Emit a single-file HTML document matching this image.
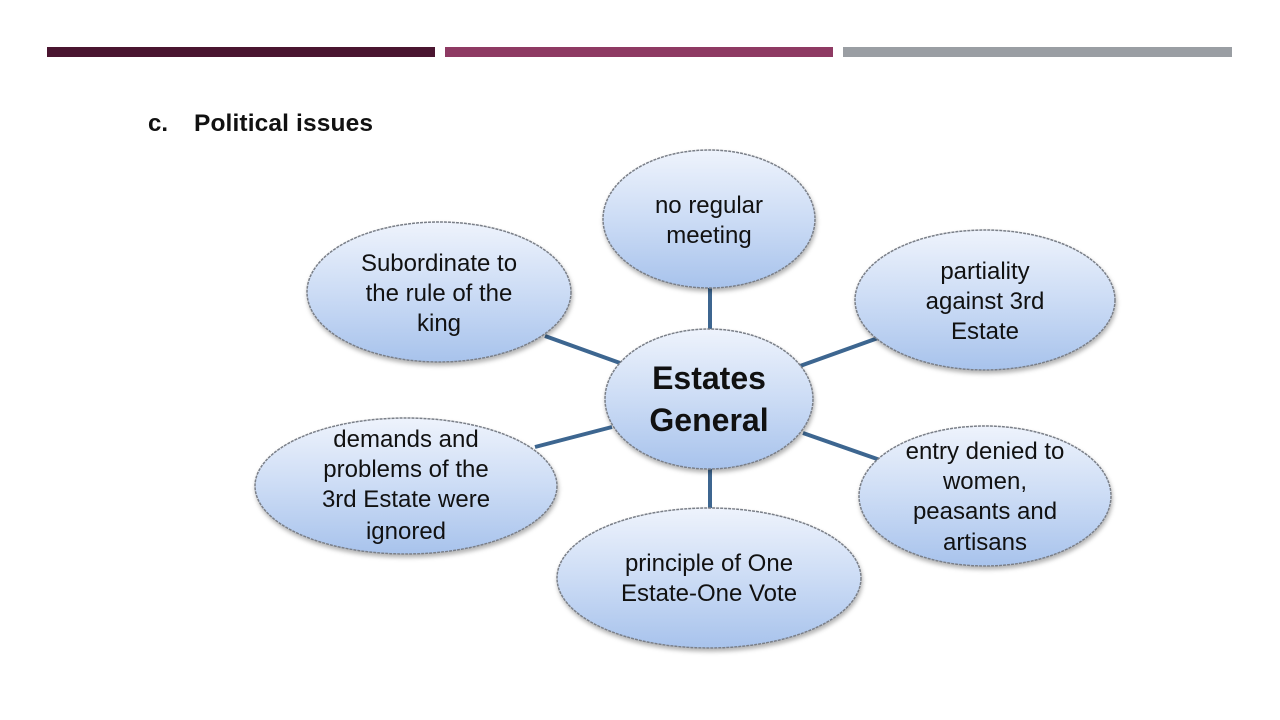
<!DOCTYPE html>
<html><head><meta charset="utf-8"><style>
html,body{margin:0;padding:0;background:#fff;}
svg{display:block;}
text{font-family:"Liberation Sans",sans-serif;fill:#111;}
</style></head><body>
<svg width="1280" height="720" viewBox="0 0 1280 720">
<defs>
<linearGradient id="g" x1="0" y1="0" x2="0" y2="1">
<stop offset="0" stop-color="#eef3fc"/>
<stop offset="0.5" stop-color="#ccdcf5"/>
<stop offset="1" stop-color="#a8c3ec"/>
</linearGradient>
<filter id="s" x="-10%" y="-10%" width="120%" height="130%"><feDropShadow dx="1" dy="3" stdDeviation="2" flood-color="#000" flood-opacity="0.3"/></filter>
</defs>
<rect x="47" y="47" width="388" height="10" fill="#4a1530"/>
<rect x="445" y="47" width="388" height="10" fill="#8e3a63"/>
<rect x="843" y="47" width="389" height="10" fill="#9a9ea3"/>
<text x="148" y="131" font-size="24" font-weight="bold">c.</text>
<text x="194" y="131" font-size="24.5" font-weight="bold" textLength="179">Political issues</text>
<g stroke="#3d6690" stroke-width="4">
<line x1="710" y1="288" x2="710" y2="330"/>
<line x1="710" y1="468" x2="710" y2="508"/>
<line x1="545" y1="336" x2="620" y2="363"/>
<line x1="535" y1="447" x2="612" y2="427"/>
<line x1="800" y1="366" x2="878" y2="338"/>
<line x1="803" y1="433" x2="880" y2="460"/>
</g>
<g fill="url(#g)" stroke="#7a7f88" stroke-width="1.5" stroke-dasharray="3 1" filter="url(#s)">
<ellipse cx="709" cy="219" rx="106" ry="69"/>
<ellipse cx="439" cy="292" rx="132" ry="70"/>
<ellipse cx="985" cy="300" rx="130" ry="70"/>
<ellipse cx="406" cy="486" rx="151" ry="68"/>
<ellipse cx="709" cy="578" rx="152" ry="70"/>
<ellipse cx="985" cy="496" rx="126" ry="70"/>
<ellipse cx="709" cy="399" rx="104" ry="70"/>
</g>
<g font-size="24" text-anchor="middle">
<text x="709" y="213">no regular</text>
<text x="709" y="243">meeting</text>
<text x="439" y="271">Subordinate to</text>
<text x="439" y="301">the rule of the</text>
<text x="439" y="331">king</text>
<text x="985" y="279">partiality</text>
<text x="985" y="309">against 3rd</text>
<text x="985" y="339">Estate</text>
<text x="406" y="447">demands and</text>
<text x="406" y="477">problems of the</text>
<text x="406" y="507">3rd Estate were</text>
<text x="406" y="539">ignored</text>
<text x="709" y="571">principle of One</text>
<text x="709" y="601">Estate-One Vote</text>
<text x="985" y="459">entry denied to</text>
<text x="985" y="489">women,</text>
<text x="985" y="519">peasants and</text>
<text x="985" y="550">artisans</text>
</g>
<g font-size="32" font-weight="bold" text-anchor="middle">
<text x="709" y="389">Estates</text>
<text x="709" y="431">General</text>
</g>
</svg>
</body></html>
